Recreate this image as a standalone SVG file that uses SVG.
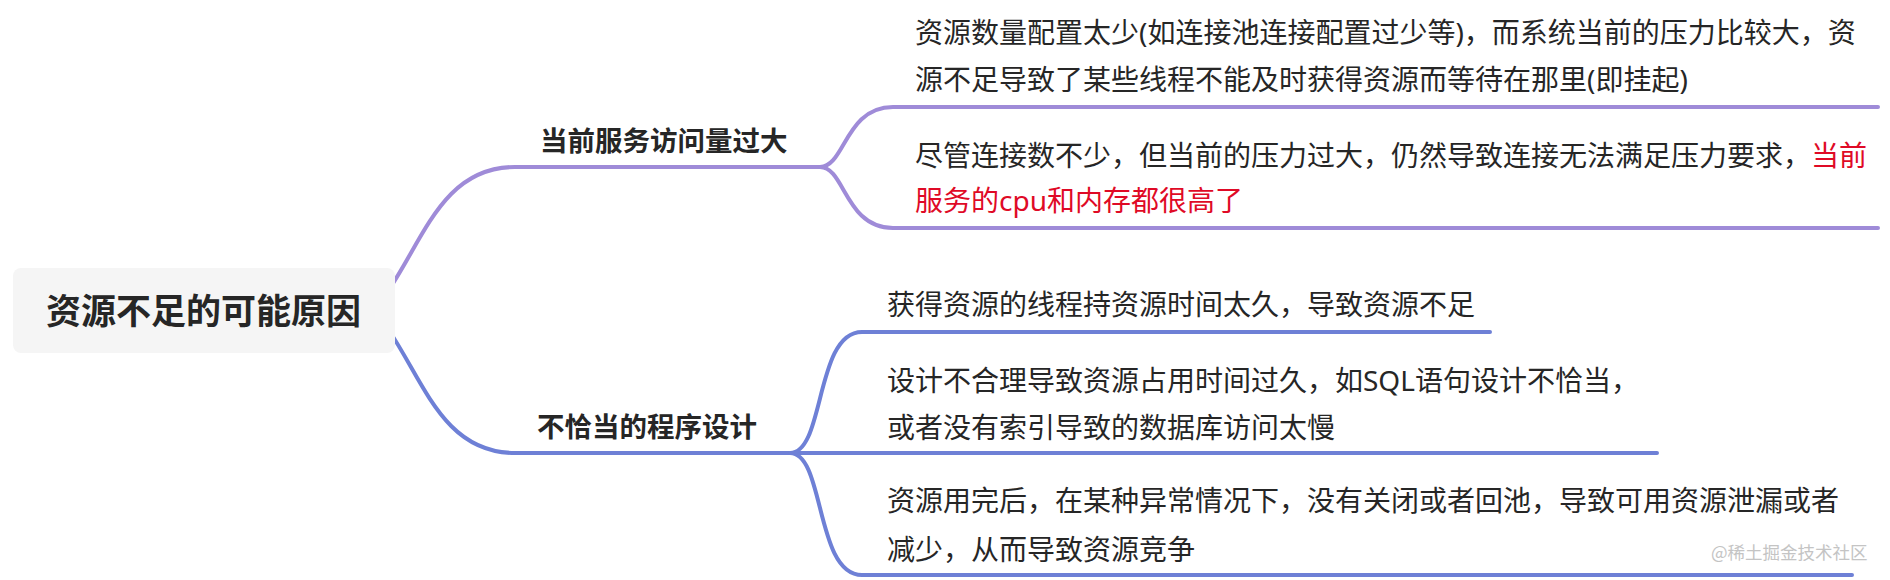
<svg xmlns="http://www.w3.org/2000/svg" width="1890" height="580" viewBox="0 0 1890 580">
<style>
  .t { font-family: "Noto Sans", "Noto Sans CJK SC", sans-serif; fill: #262626; }
  .leaf { font-size: 28px; }
  .branch { font-size: 27.5px; font-weight: bold; }
  .root { font-size: 35px; font-weight: bold; }
  .red { fill: #df0a26; }
  .c1 { fill: none; stroke: #9f8bd8; stroke-width: 4; stroke-linecap: round; }
  .c2 { fill: none; stroke: #6e80d6; stroke-width: 4; stroke-linecap: round; }
  .wm { font-family: "Noto Sans CJK SC", sans-serif; font-size: 17.5px; fill: #c4c4c4; }
</style>
<rect width="1890" height="580" fill="#ffffff"/>
<g id="connectors">
  <path class="c1" d="M 390 288 C 425 235, 445 167, 515 167 L 820 167"/>
  <path class="c1" d="M 820 167 C 845 167, 845 107, 893 107 L 1878 107"/>
  <path class="c1" d="M 820 167 C 845 167, 845 228, 893 228 L 1878 228"/>
  <path class="c2" d="M 390 332 C 425 385, 445 453, 515 453 L 1657 453"/>
  <path class="c2" d="M 790 453 C 825 453, 815 332, 862 332 L 1490 332"/>
  <path class="c2" d="M 790 453 C 825 453, 815 575, 862 575 L 1852 575"/>
</g>
<g id="root">
  <rect x="13" y="268" width="382" height="85" rx="8" fill="#f5f5f5"/>
  <text class="t root" x="46" y="323.5">资源不足的可能原因</text>
</g>
<g id="branch-1">
  <text class="t branch" x="540" y="151">当前服务访问量过大</text>
</g>
<g id="branch-2">
  <text class="t branch" x="537" y="437">不恰当的程序设计</text>
</g>
<g id="leaf-1-1">
  <text class="t leaf" x="915" y="42.5">资源数量配置太少(如连接池连接配置过少等)，而系统当前的压力比较大，资</text>
  <text class="t leaf" x="915" y="90">源不足导致了某些线程不能及时获得资源而等待在那里(即挂起)</text>
</g>
<g id="leaf-1-2">
  <text class="t leaf" x="915" y="165.5">尽管连接数不少，但当前的压力过大，仍然导致连接无法满足压力要求，<tspan class="red">当前</tspan></text>
  <text class="t leaf red" x="915" y="211">服务的cpu和内存都很高了</text>
</g>
<g id="leaf-2-1">
  <text class="t leaf" x="887" y="315">获得资源的线程持资源时间太久，导致资源不足</text>
</g>
<g id="leaf-2-2">
  <text class="t leaf" x="887" y="390.5">设计不合理导致资源占用时间过久，如SQL语句设计不恰当，</text>
  <text class="t leaf" x="887" y="438">或者没有索引导致的数据库访问太慢</text>
</g>
<g id="leaf-2-3">
  <text class="t leaf" x="887" y="511">资源用完后，在某种异常情况下，没有关闭或者回池，导致可用资源泄漏或者</text>
  <text class="t leaf" x="887" y="559.5">减少，从而导致资源竞争</text>
</g>
<text class="wm" x="1711" y="558.5">@稀土掘金技术社区</text>
</svg>
